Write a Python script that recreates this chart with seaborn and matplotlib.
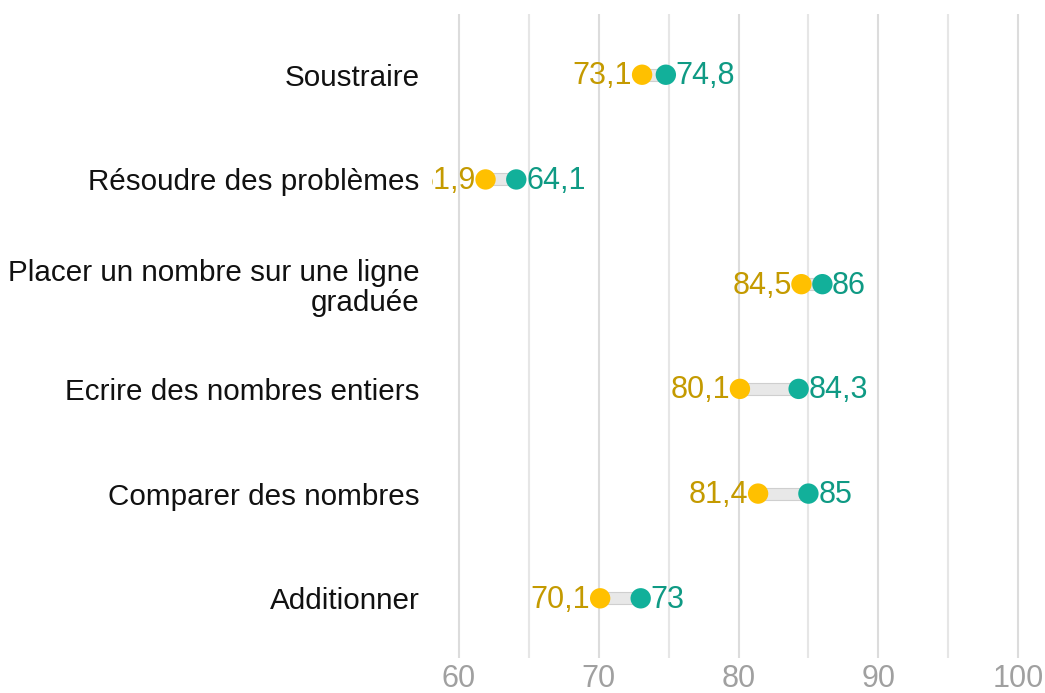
import numpy as np
import pandas as pd
import seaborn as sns
import matplotlib.pyplot as plt
from matplotlib.ticker import MultipleLocator

# data
categories = ["Soustraire", "Résoudre des problèmes",
              "Placer un nombre sur une ligne\ngraduée",
              "Ecrire des nombres entiers", "Comparer des nombres",
              "Additionner"]
low_vals = [73.1, 61.9, 84.5, 80.1, 81.4, 70.1]
high_vals = [74.8, 64.1, 86.0, 84.3, 85.0, 73.0]

df = pd.DataFrame({"cat": categories, "low": low_vals, "high": high_vals})
df["y"] = np.arange(len(df))

sns.set_theme(style="white")
plt.rcParams["font.family"] = ["Liberation Sans", "DejaVu Sans"]

fig = plt.figure(figsize=(10.45, 6.93), dpi=100)
ax = fig.add_axes([0.4134, 0.0505, 0.5809, 0.9293])

yellow, yellow_txt = "#ffc000", "#c49a00"
teal, teal_txt = "#12b09a", "#0f9a84"

# connector bars
ax.barh(df["y"], df["high"] - df["low"], left=df["low"], height=0.115,
        color="#e8e8e8", edgecolor="#cfcfcf", linewidth=0.8, zorder=2)

sns.scatterplot(data=df, x="low", y="y", color=yellow, s=215,
                edgecolor="none", ax=ax, zorder=3, legend=False)
sns.scatterplot(data=df, x="high", y="y", color=teal, s=215,
                edgecolor="none", ax=ax, zorder=3, legend=False)

def fmt(v):
    s = f"{v:.1f}".replace(".", ",")
    return s[:-2] if s.endswith(",0") else s

for _, r in df.iterrows():
    ax.annotate(fmt(r["low"]), (r["low"], r["y"]), xytext=(-7, -1),
                textcoords="offset points", ha="right", va="center",
                fontsize=22, color=yellow_txt, annotation_clip=False,
                clip_on=True, zorder=4)
    ax.annotate(fmt(r["high"]), (r["high"], r["y"]), xytext=(7, -1),
                textcoords="offset points", ha="left", va="center",
                fontsize=22, color=teal_txt, annotation_clip=False,
                clip_on=True, zorder=4)

ax.set_xlim(58.07, 101.5)
ax.set_ylim(5.57, -0.58)
ax.xaxis.set_major_locator(MultipleLocator(10))
ax.xaxis.set_minor_locator(MultipleLocator(5))
ax.set_xticks([60, 70, 80, 90, 100])
ax.set_yticks(df["y"])
ax.set_yticklabels(categories)
ax.grid(axis="x", which="major", color="#dcdcdc", linewidth=1.5, zorder=0)
ax.grid(axis="x", which="minor", color="#e6e6e6", linewidth=1.5, zorder=0)
ax.grid(axis="y", visible=False)
ax.set_axisbelow(True)
ax.tick_params(axis="x", which="both", length=0, pad=4, labelsize=22,
               labelcolor="#a0a0a0")
ax.tick_params(axis="y", length=0, pad=9, labelsize=21.3, labelcolor="#111111")
for t in ax.get_yticklabels():
    t.set_multialignment("right")
    t.set_linespacing(1.1)
sns.despine(left=True, bottom=True)
ax.set_xlabel("")
ax.set_ylabel("")

fig.savefig("out.png", dpi=100)
